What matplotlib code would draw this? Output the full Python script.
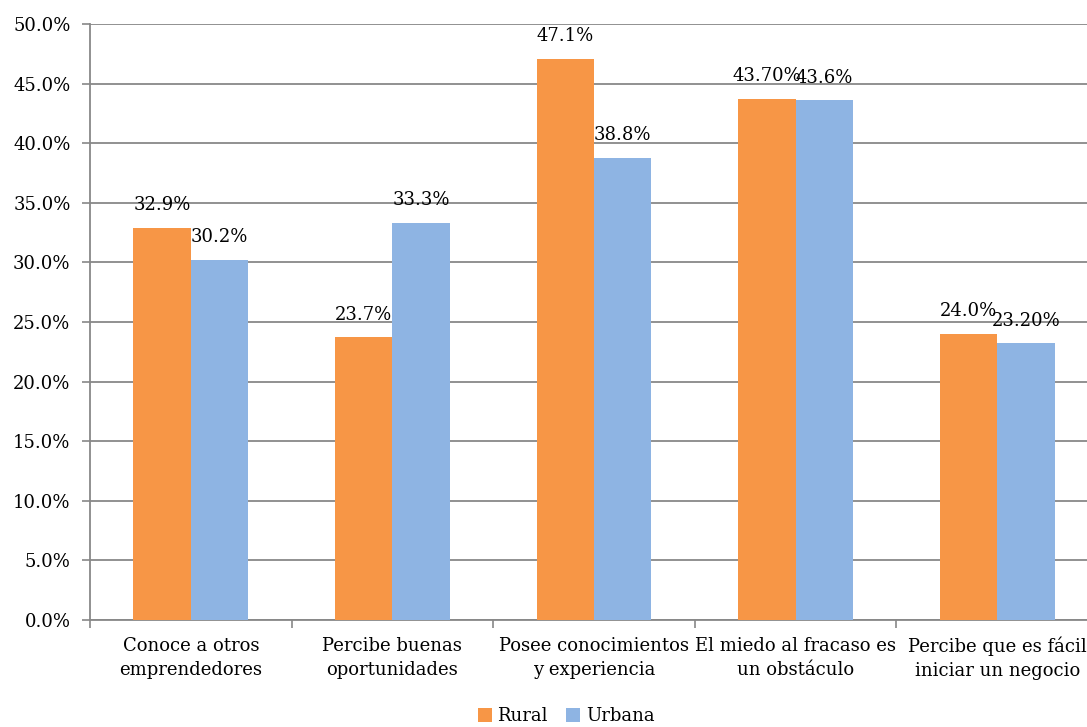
import matplotlib
matplotlib.use("Agg")
import matplotlib.pyplot as plt
import numpy as np

categories = ["Conoce a otros\nemprendedores", "Percibe buenas\noportunidades",
              "Posee conocimientos\ny experiencia", "El miedo al fracaso es\nun obstáculo",
              "Percibe que es fácil\niniciar un negocio"]
rural = [32.9, 23.7, 47.1, 43.7, 24.0]
urbana = [30.2, 33.3, 38.8, 43.6, 23.2]
rural_labels = ["32.9%", "23.7%", "47.1%", "43.70%", "24.0%"]
urbana_labels = ["30.2%", "33.3%", "38.8%", "43.6%", "23.20%"]
yticks = [0, 5, 10, 15, 20, 25, 30, 35, 40, 45, 50]

plt.rcParams['font.family'] = ['DejaVu Serif']
fig = plt.figure(figsize=(10.87, 7.27), dpi=100)
W, H = 1087, 727
left, right, top, bottom = 90, 1098, 24, 620
ax = fig.add_axes([left / W, 1 - bottom / H, (right - left) / W, (bottom - top) / H])

x = np.arange(len(categories)) + 0.5
bw = 0.285
orange = "#F79646"
blue = "#8EB4E3"
fs = 13
ax.bar(x - bw / 2, rural, bw, color=orange, label="Rural", zorder=3)
ax.bar(x + bw / 2, urbana, bw, color=blue, label="Urbana", zorder=3)

for xi, v, t in zip(x, rural, rural_labels):
    ax.text(xi - bw / 2, v + 1.9, t, ha="center", va="center", fontsize=fs, zorder=4)
for xi, v, t in zip(x, urbana, urbana_labels):
    ax.text(xi + bw / 2, v + 1.9, t, ha="center", va="center", fontsize=fs, zorder=4)

ax.set_xlim(0, len(categories))
ax.set_ylim(0, 50)
ax.set_yticks(yticks)
ax.set_yticklabels([f"{v:.1f}%" for v in yticks], fontsize=fs)
ax.set_xticks(np.arange(len(categories) + 1))
ax.set_xticklabels([])
ax.set_xticks(x, minor=True)
ax.set_xticklabels(categories, minor=True, fontsize=fs, linespacing=1.45)
ax.tick_params(axis="x", which="minor", length=0, pad=12)
ax.tick_params(axis="x", which="major", length=6, color="#888888", width=1.2)
ax.tick_params(axis="y", length=6, color="#888888", width=1.2, pad=8)
ax.grid(axis="y", color="#888888", linewidth=1.3, zorder=0)
ax.set_axisbelow(True)
for s in ["top", "right"]:
    ax.spines[s].set_visible(False)
for s in ["left", "bottom"]:
    ax.spines[s].set_color("#888888")
    ax.spines[s].set_linewidth(1.3)

fig.legend(loc="center", bbox_to_anchor=(566 / W, 1 - 716 / H), ncol=2, frameon=False,
           fontsize=fs, handlelength=0.8, handleheight=0.8, handletextpad=0.3,
           columnspacing=1.0)
fig.savefig("out.png", dpi=100)
